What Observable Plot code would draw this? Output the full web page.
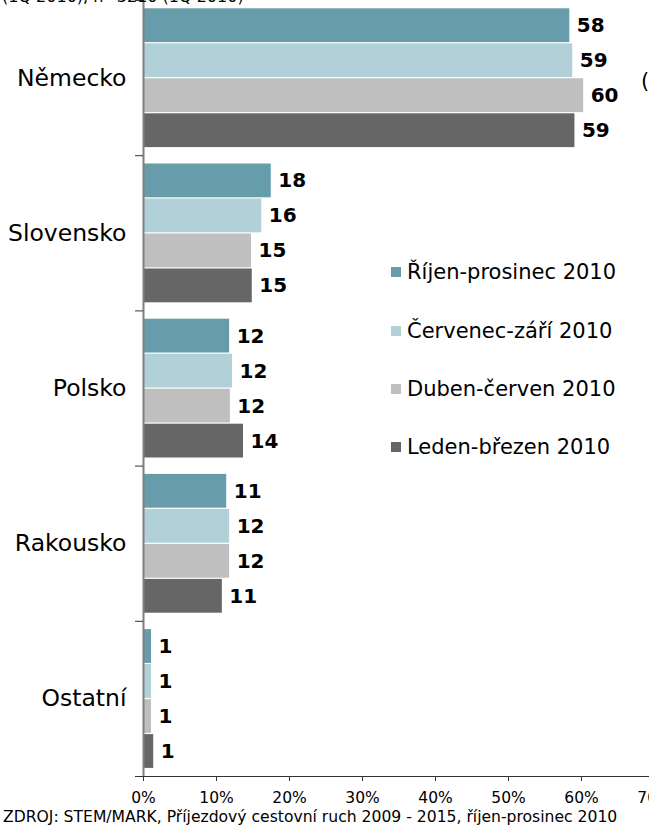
<!DOCTYPE html>
<html><head><meta charset="utf-8">
<script src="https://cdn.jsdelivr.net/npm/d3@7"></script>
<script src="https://cdn.jsdelivr.net/npm/@observablehq/plot@0.6"></script>
<style>
html,body{margin:0;padding:0;background:#fff;overflow:hidden;width:649px;height:829px;}
body{position:relative;font-family:"DejaVu Sans",Verdana,sans-serif;color:#000;}
#top{position:absolute;z-index:2;left:2px;top:-12px;font-size:16px;line-height:18px;white-space:nowrap;}
#cut{position:absolute;z-index:2;left:641px;top:69px;font-size:21px;line-height:24px;white-space:nowrap;}
#chart{position:absolute;left:0;top:0;z-index:1;}
#chart svg{max-width:none;}
.li{position:absolute;z-index:2;left:391px;height:24px;display:flex;align-items:center;font-size:21px;white-space:nowrap;}
.sw{width:10px;height:10px;margin-right:6px;}
#footer{position:absolute;z-index:2;left:3px;top:807px;font-size:15.6px;line-height:20px;white-space:nowrap;}
</style>
</head><body>
<div id="chart"></div>
<div id="top">(1Q 2010), n=3210 (1Q 2010)</div>
<div id="legend"></div>
<div id="cut">(</div>
<div id="footer">ZDROJ: STEM/MARK, Příjezdový cestovní ruch 2009 - 2015, říjen-prosinec 2010</div>
<script>
const countries = ["Německo", "Slovensko", "Polsko", "Rakousko", "Ostatní"];
const seriesNames = ["Říjen-prosinec 2010", "Červenec-září 2010", "Duben-červen 2010", "Leden-březen 2010"];
const seriesColors = ["#679DAB", "#B1D0D7", "#BFBFBF", "#666666"];
const rijenProsinec = [58.4, 17.5, 11.8, 11.4, 1.1];
const cervenecZari = [58.8, 16.2, 12.2, 11.8, 1.1];
const dubenCerven  = [60.3, 14.8, 11.9, 11.8, 1.1];
const ledenBrezen  = [59.1, 14.9, 13.7, 10.8, 1.4];
const xTicks = [0, 10, 20, 30, 40, 50, 60, 70];

const seriesValues = [rijenProsinec, cervenecZari, dubenCerven, ledenBrezen];
// layout within one country group (1 unit = one group)
const GROUP_PX = 155.2, OFFSET = 8.3 / GROUP_PX, STEP = 35 / GROUP_PX, BAR = 33.8 / GROUP_PX;
const rows = [];
countries.forEach((c, gi) => {
  seriesNames.forEach((s, si) => {
    const y1 = gi + OFFSET + si * STEP;
    rows.push({country: c, series: s, value: seriesValues[si][gi], y1, y2: y1 + BAR, ym: y1 + BAR / 2});
  });
});

const chart = Plot.plot({
  width: 700, height: 806,
  marginLeft: 143, marginRight: 46, marginTop: 0, marginBottom: 30,
  style: {fontFamily: "'DejaVu Sans', Verdana, sans-serif", background: "white", overflow: "visible", color: "#000", maxWidth: "none"},
  x: {domain: [0, 70], label: null},
  y: {domain: [0, countries.length], range: [0, 776], label: null},
  color: {domain: seriesNames, range: seriesColors},
  marks: [
    Plot.rect(rows, {x1: 0, x2: "value", y1: "y1", y2: "y2", fill: "series"}),
    Plot.text(rows, {x: "value", y: "ym", text: d => String(Math.round(d.value)), dx: 7, textAnchor: "start", fontWeight: "bold", fontSize: 20, fill: "#000"}),
    Plot.ruleX([0], {stroke: "#7f7f7f", strokeWidth: 2}),
    Plot.ruleY([countries.length], {stroke: "#333"}),
    Plot.axisY(d3.range(countries.length + 1), {tickSize: 8, tickFormat: () => "", stroke: "#333"}),
    Plot.axisY(d3.range(countries.length).map(i => i + 0.5), {tickSize: 0, tickPadding: 17, tickFormat: i => countries[Math.floor(i)], fontSize: 23.5, fill: "#000"}),
    Plot.axisX(xTicks, {tickSize: 5, tickPadding: 10, fontSize: 15.5, fill: "#000", stroke: "#333", tickFormat: d => d + "%"})
  ]
});
document.getElementById("chart").appendChild(chart);

const legendY = [272, 330.5, 389, 447];
const legend = document.getElementById("legend");
seriesNames.forEach((s, i) => {
  const it = document.createElement("div");
  it.className = "li";
  it.style.top = (legendY[i] - 12) + "px";
  const sw = document.createElement("span");
  sw.className = "sw";
  sw.style.background = seriesColors[i];
  const t = document.createElement("span");
  t.textContent = s;
  it.appendChild(sw); it.appendChild(t);
  legend.appendChild(it);
});
</script>
</body></html>
